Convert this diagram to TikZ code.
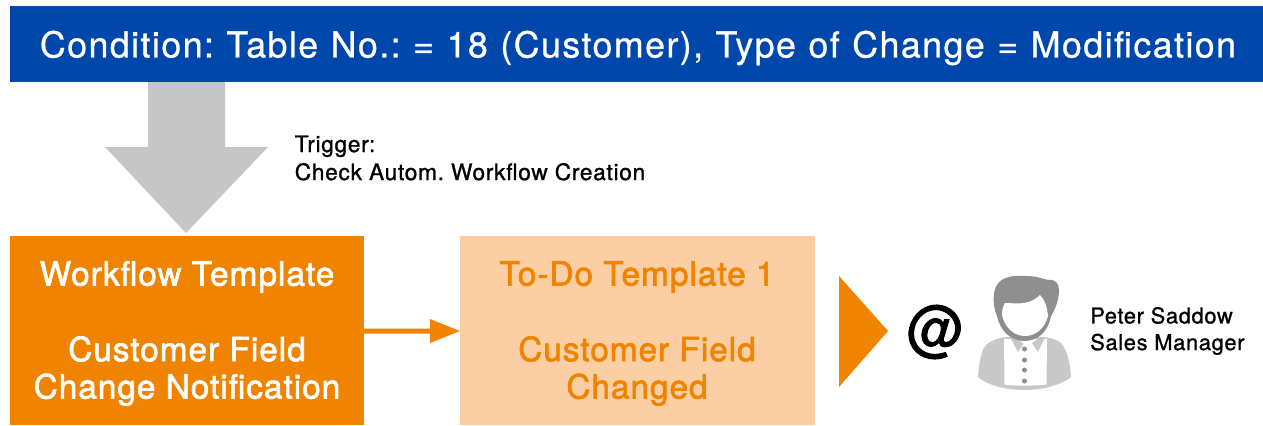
\documentclass[tikz,border=0pt]{standalone}
\usepackage{fontspec}
\setmainfont{TeX Gyre Heros}
\frenchspacing
\definecolor{bannerblue}{HTML}{0047AB}
\definecolor{wforange}{HTML}{F08300}
\definecolor{todopeach}{HTML}{FBCFA3}
\definecolor{arrowgray}{HTML}{C6C6C6}
\definecolor{bodygray}{HTML}{C8C8C8}
\definecolor{hairgray}{HTML}{8F8F8F}
\newfontfamily\boxfont[LetterSpace=3,FakeBold=2]{TeX Gyre Heros}
\newfontfamily\bannerfont[LetterSpace=4,FakeBold=0.8,WordSpace=1.1]{TeX Gyre Heros}
\newfontfamily\smallfont[LetterSpace=3,FakeBold=1]{TeX Gyre Heros}
\newfontfamily\atfont[FakeBold=1.5]{TeX Gyre Heros}
\tikzset{
  boxtext/.style={font=\boxfont\fontsize{25}{28}\selectfont,align=center,inner sep=0pt,anchor=center},
  smalltext/.style={align=left,inner sep=0pt,anchor=west,text=black},
  panel/.style={inner sep=0pt,minimum height=189*0.75pt}
}
\begin{document}
\begin{tikzpicture}[x=0.75pt,y=-0.75pt]
\useasboundingbox (0,0) rectangle (1263,425);
\fill[white] (0,0) rectangle (1263,425);
\node[fill=bannerblue,minimum width=1253*0.75pt,minimum height=76*0.75pt,inner sep=0pt] (banner) at (636.5,44) {};
\node[inner sep=0pt,text=white,font=\bannerfont\fontsize{26.85}{30}\selectfont] (bannertext) at (638,48) {Condition: Table No.: = 18 (Customer), Type of Change = Modification};
\fill[arrowgray] (148,82) -- (225,82) -- (225,147) -- (268,147) -- (186,233) -- (105,147) -- (148,147) -- cycle;
\node[smalltext,font=\smallfont\fontsize{17.05}{21}\selectfont] (trigger) at (294.5,158) {Trigger:\\Check Autom. Workflow Creation};
\node[panel,fill=wforange,minimum width=354*0.75pt] (wf) at (187,330.5) {};
\node[boxtext,text=white] (wf1) at (187,277) {Workflow Template};
\node[boxtext,text=white] (wf2) at (187,371) {Customer Field\\Change Notification};
\node[panel,fill=todopeach,minimum width=355*0.75pt] (todo) at (637.5,330.5) {};
\node[boxtext,text=wforange] (td1) at (637,277) {To-Do Template 1};
\node[boxtext,text=wforange] (td2) at (637,371) {Customer Field\\Changed};
\fill[wforange] (364,328.5) -- (430,328.5) -- (430,319) -- (460,331) -- (430,343) -- (430,333.5) -- (364,333.5) -- cycle;
\fill[wforange] (839,276) -- (888,331) -- (839,387) -- cycle;
\node[inner sep=0pt,font=\atfont\fontsize{46}{46}\selectfont,text=black,xscale=0.92] (at) at (935.5,332) {@};
% person: body
\fill[bodygray] (978,377) .. controls (980,355) and (982,345) .. (992,341) .. controls (998,338) and (1004,337) .. (1010,337) -- (1040,337) .. controls (1048,337) and (1056,339) .. (1061,343) .. controls (1067,350) and (1070,362) .. (1071,377) .. controls (1060,386) and (1040,390) .. (1024,390) .. controls (1008,390) and (988,386) .. (978,377) -- cycle;
\fill[white] (1004,339) -- (1047,339) -- (1046.5,384.5) .. controls (1035,386) and (1015,386) .. (1004.5,384.5) -- cycle;
\fill[bodygray] (1010,337) -- (1018,352) -- (1024,343) -- (1032,343) -- (1038,352) -- (1045,337) -- cycle;
\fill[white] (1018,339) -- (1024,344) -- (1031,344) -- (1037,339) -- cycle;
\foreach \y in {349,360,370,381}{\fill[hairgray] (1024.5,\y) circle (2.5);}
% person: hair and chin
\fill[hairgray] (1024,341) .. controls (1010,341) and (1000,330) .. (997,316) .. controls (992,305) and (993,290) .. (997,285) .. controls (1002,277) and (1012,275) .. (1026,276) .. controls (1036,276) and (1044,279) .. (1048,280) .. controls (1055,279) and (1059,283) .. (1059,290) .. controls (1059,300) and (1055,310) .. (1051,316) .. controls (1048,332) and (1038,341) .. (1024,341) -- cycle;
\fill[white] (1002,315) .. controls (1002,310) and (1003,306) .. (1005,303) .. controls (1012,303) and (1018,304) .. (1024,303) .. controls (1031,302) and (1036,299) .. (1040,295) .. controls (1044,299) and (1047,305) .. (1048,316) .. controls (1045,328) and (1036,336) .. (1025,336) .. controls (1014,336) and (1005,328) .. (1002,315) -- cycle;
\node[smalltext,font=\smallfont\fontsize{16.4}{20}\selectfont] (person) at (1090,331) {Peter Saddow\\Sales Manager};
\end{tikzpicture}
\end{document}
